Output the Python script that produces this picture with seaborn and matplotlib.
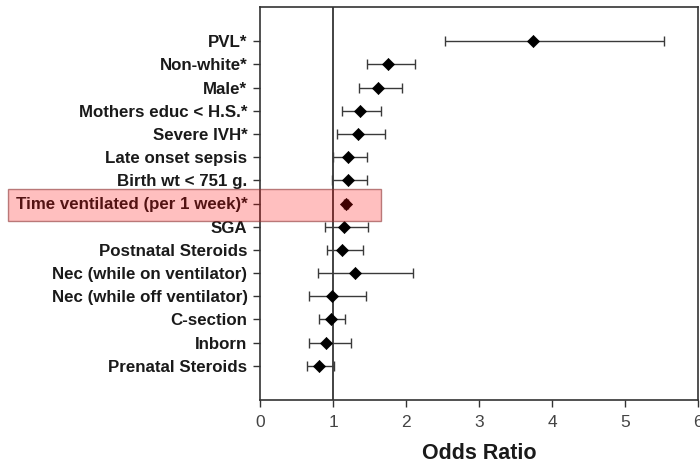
import numpy as np
import pandas as pd
import matplotlib
matplotlib.use("Agg")
import matplotlib.pyplot as plt
import seaborn as sns
from matplotlib.patches import Rectangle

factors = ["PVL*", "Non-white*", "Male*", "Mothers educ < H.S.*", "Severe IVH*",
           "Late onset sepsis", "Birth wt < 751 g.", "Time ventilated (per 1 week)*",
           "SGA", "Postnatal Steroids", "Nec (while on ventilator)",
           "Nec (while off ventilator)", "C-section", "Inborn", "Prenatal Steroids"]
odds = [3.74, 1.75, 1.62, 1.37, 1.34, 1.20, 1.20, 1.18, 1.15, 1.13, 1.30, 0.98, 0.97, 0.91, 0.81]
ci_low = [2.53, 1.46, 1.35, 1.13, 1.06, 1.00, 0.98, 1.15, 0.89, 0.92, 0.80, 0.67, 0.81, 0.67, 0.65]
ci_high = [5.54, 2.12, 1.94, 1.66, 1.71, 1.46, 1.47, 1.21, 1.48, 1.41, 2.09, 1.45, 1.17, 1.25, 1.01]
x_ticks = [0, 1, 2, 3, 4, 5, 6]
highlight = "Time ventilated (per 1 week)*"

df = pd.DataFrame({"factor": factors, "odds": odds, "lo": ci_low, "hi": ci_high})

sns.set_theme(style="ticks")
plt.rcParams["font.family"] = ["Liberation Sans", "DejaVu Sans"]

fig = plt.figure(figsize=(7.0, 4.68), dpi=100)
ax = fig.add_axes([260 / 700, 1 - 400 / 468, 438 / 700, 393 / 468])

pos = np.arange(len(df))
ax.errorbar(df["odds"], pos,
            xerr=[df["odds"] - df["lo"], df["hi"] - df["odds"]],
            fmt="none", ecolor="#3a3a3a", elinewidth=1.0, capsize=3.3,
            capthick=1.0, zorder=2)
sns.scatterplot(data=df, x="odds", y=pos, marker="D", s=38, color="black",
                edgecolor="black", linewidth=0.5, ax=ax, zorder=3, legend=False)

ax.axvline(1, color="#222222", linewidth=1.2, zorder=1)

ax.set_xlim(0, 6)
ax.set_ylim(len(df) - 1 + 1.47, -1.47)
ax.set_yticks(pos)
ax.set_yticklabels(df["factor"], fontsize=12.2, fontweight="bold", color="#1a1a1a")
ax.set_xticks(x_ticks)
ax.set_xticklabels([str(t) for t in x_ticks], fontsize=12.5, color="#444444")
ax.set_xlabel("Odds Ratio", fontsize=15.5, fontweight="bold", color="#1a1a1a", labelpad=9)
ax.set_ylabel("")

for s in ax.spines.values():
    s.set_visible(True)
    s.set_linewidth(1.2)
    s.set_color("#333333")
ax.tick_params(axis="both", direction="out", length=5, width=1.0, color="#333333")
ax.tick_params(axis="y", pad=4)
ax.tick_params(axis="x", pad=6)

# highlight box in figure pixels
fig.add_artist(Rectangle((8 / 700, 1 - 221 / 468), (381 - 8) / 700, 32 / 468,
                         transform=fig.transFigure, facecolor=(1.0, 0.0, 0.0, 0.25),
                         edgecolor=(0.55, 0.2, 0.2, 0.6), linewidth=1.0, zorder=10))

fig.savefig("out.png", dpi=100)
